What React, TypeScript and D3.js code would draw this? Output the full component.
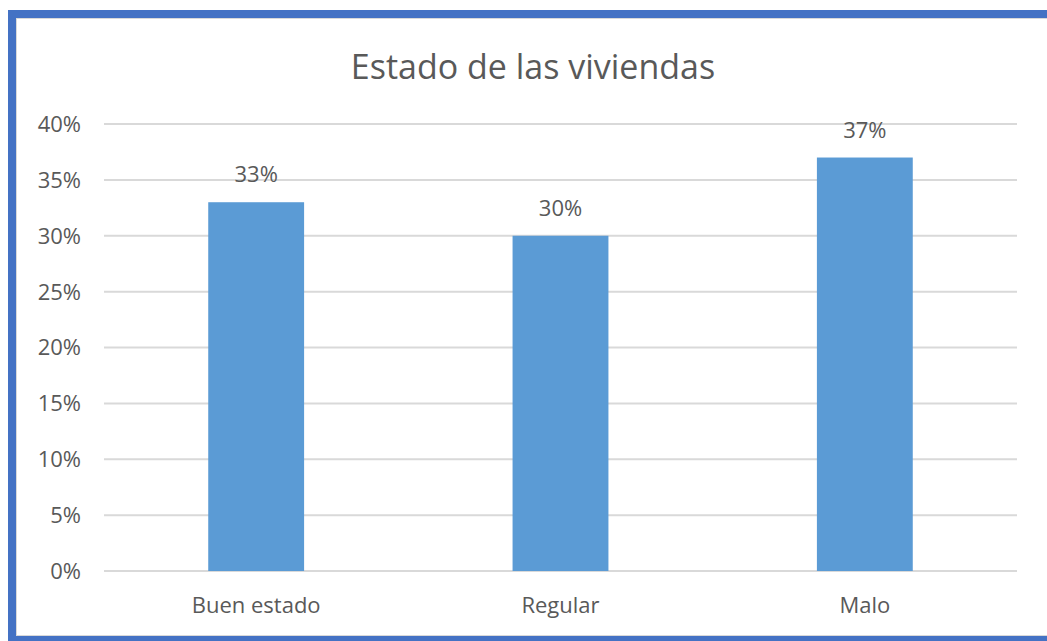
import React from "react";
import * as d3 from "d3";

const categories = ["Buen estado", "Regular", "Malo"];
const values = [0.33, 0.3, 0.37];
const yTicks = [0, 0.05, 0.1, 0.15, 0.2, 0.25, 0.3, 0.35, 0.4];
const title = "Estado de las viviendas";

const W = 1047;
const H = 641;
const FONT = "'Open Sans', 'Noto Sans', sans-serif";
const TXT = "#595959";

export default function App() {
  const x = d3.scaleBand().domain(categories).range([104, 1017]).paddingInner(0.685).paddingOuter(0.3425);
  const y = d3.scaleLinear().domain([0, 0.4]).range([571, 124]);
  const fmt = d3.format(".0%");
  return (
    <svg width={W} height={H} style={{ position: "absolute", left: 0, top: 0, background: "#fff" }}>
      <rect x={0} y={0} width={W} height={H} fill="#fff" />
      <rect x={8} y={10} width={W} height={8} fill="#4472C4" />
      <rect x={8} y={10} width={8} height={H} fill="#4472C4" />
      <rect x={8} y={636} width={W} height={8} fill="#4472C4" />
      <line x1={16} x2={W} y1={18.5} y2={18.5} stroke="#d9d9d9" />
      <line x1={16.5} x2={16.5} y1={18} y2={636} stroke="#d9d9d9" />
      <line x1={16} x2={W} y1={635.5} y2={635.5} stroke="#d9d9d9" />
      <text x={533} y={79} textAnchor="middle" fontFamily={FONT} fontSize={34} fill={TXT}>{title}</text>
      {yTicks.map((t) => (
        <g key={t}>
          <line x1={104} x2={1017} y1={y(t)} y2={y(t)} stroke="#d9d9d9" strokeWidth={2} />
          <text x={81} y={y(t)} dy="0.36em" textAnchor="end" fontFamily={FONT} fontSize={22} fill={TXT}>{fmt(t)}</text>
        </g>
      ))}
      {categories.map((c, i) => (
        <g key={c}>
          <rect x={x(c)!} y={y(values[i])} width={x.bandwidth()} height={y(0) - y(values[i])} fill="#5B9BD5" />
          <text x={x(c)! + x.bandwidth() / 2} y={y(values[i]) - 20} textAnchor="middle" fontFamily={FONT} fontSize={22} fill={TXT}>{fmt(values[i])}</text>
          <text x={x(c)! + x.bandwidth() / 2} y={613} textAnchor="middle" fontFamily={FONT} fontSize={22} fill={TXT}>{c}</text>
        </g>
      ))}
    </svg>
  );
}
